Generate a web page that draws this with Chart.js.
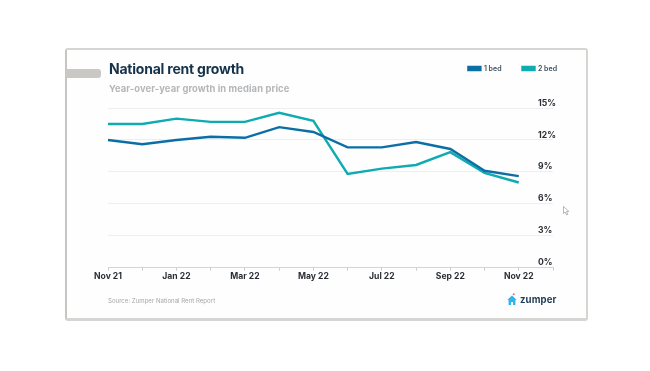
<!DOCTYPE html>
<html lang="en">
<head>
    <title>National rent growth</title>
    <meta charset="utf-8" />
    <script src="https://cdn.jsdelivr.net/npm/chart.js@4/dist/chart.umd.min.js"></script>
    <style>
        html, body { margin: 0; padding: 0; background: #fff; overflow: hidden; }
        #page { position: relative; width: 650px; height: 371px; font-family: Inter, sans-serif; }
        #card { position: absolute; left: 65px; top: 48px; width: 519px; height: 268px; background: #fefefe;
            border: 2px solid #d6d5d2; border-bottom-width: 3px; border-radius: 3px; border-left-color: #c6c5c2; }
        #tab { position: absolute; left: 66px; top: 69px; width: 35px; height: 9px; background: #c9c8c5; border-radius: 0 3px 3px 0; }
        #myChart { position: absolute; left: 0; top: 0; }
        .label { position: absolute; white-space: nowrap; }
        #title { left: 109px; top: 60px; font-size: 14px; font-weight: 700; color: #16324a; letter-spacing: -0.22px; }
        #subtitle { left: 109px; top: 83px; font-size: 9.4px; font-weight: 700; color: #b4b6b8; letter-spacing: 0.1px; }
        #source { left: 108px; top: 297px; font-size: 6.1px; color: #a5a7a9; }
        #brand { left: 520px; top: 294px; font-size: 9.6px; font-weight: 700; color: #1d3a50; letter-spacing: 0.1px; }
        svg { position: absolute; }
    </style>
</head>
<body>
    <div id="page">
        <div id="card"></div>
        <div id="tab"></div>
        <canvas id="myChart" width="650" height="371"></canvas>
        <div class="label" id="title">National rent growth</div>
        <div class="label" id="subtitle">Year-over-year growth in median price</div>
        <div class="label" id="source">Source: Zumper National Rent Report</div>
        <svg style="left:507px;top:293px" width="10" height="12" viewBox="0 0 11 14">
            <circle cx="7.5" cy="1.5" r="1.2" fill="#ee6a80" />
            <path d="M5.5 3 L11 8 L9.5 8 L9.5 14 L6.7 14 L6.7 10.5 L4.3 10.5 L4.3 14 L1.5 14 L1.5 8 L0 8 Z" fill="#2fb4ec" />
        </svg>
        <div class="label" id="brand">zumper</div>
        <svg style="left:563px;top:206px" width="7" height="10" viewBox="0 0 7 10">
            <path d="M0.5 0.5 L0.5 7.5 L2.2 6 L3.6 9 L4.8 8.4 L3.5 5.6 L5.8 5.4 Z" fill="#fff" stroke="#9a9a9a" stroke-width="0.7" />
        </svg>
    </div>

    <script>
        var categories = ['Nov 21', 'Dec 21', 'Jan 22', 'Feb 22', 'Mar 22', 'Apr 22', 'May 22', 'Jun 22', 'Jul 22', 'Aug 22', 'Sep 22', 'Oct 22', 'Nov 22', ''];
        var oneBed = [12.0, 11.6, 12.0, 12.3, 12.2, 13.2, 12.75, 11.3, 11.3, 11.8, 11.15, 9.1, 8.6, null];
        var twoBed = [13.5, 13.5, 14.0, 13.7, 13.7, 14.55, 13.8, 8.8, 9.3, 9.65, 10.85, 8.9, 8.0, null];
        var yTicks = [0, 3, 6, 9, 12, 15];

        var tickFont = { family: 'Inter', size: 8.6, weight: '700' };

        //Stretch the legend box so the plot starts well below it.
        var legendGap = {
            id: 'legendGap',
            beforeInit: function (chart) {
                var fit = chart.legend.fit;
                chart.legend.fit = function () {
                    fit.bind(this)();
                    this.height += 26;
                };
            }
        };

        new Chart(document.getElementById('myChart').getContext('2d'), {
            type: 'line',
            plugins: [legendGap],
            data: {
                labels: categories,
                datasets: [{
                    label: '1 bed',
                    data: oneBed,
                    borderColor: '#0b6fa6',
                    backgroundColor: '#0b6fa6',
                    borderWidth: 2.4,
                    pointRadius: 0,
                    tension: 0
                }, {
                    label: '2 bed',
                    data: twoBed,
                    borderColor: '#0eabb0',
                    backgroundColor: '#0eabb0',
                    borderWidth: 2.4,
                    pointRadius: 0,
                    tension: 0
                }]
            },
            options: {
                responsive: false,
                animation: false,
                layout: { padding: { left: 108, right: 72, top: 44, bottom: 88 } },
                plugins: {
                    tooltip: { enabled: false },
                    legend: {
                        position: 'top',
                        align: 'end',
                        labels: {
                            boxWidth: 12,
                            boxHeight: 3,
                            padding: 21,
                            color: '#3b4d5c',
                            font: { family: 'Inter', size: 7, weight: '600' }
                        }
                    }
                },
                scales: {
                    x: {
                        offset: false,
                        grid: { display: true, drawOnChartArea: false, drawTicks: true, tickLength: 3, tickColor: '#cccccc' },
                        border: { display: true, color: '#d4d4d4', width: 1 },
                        ticks: {
                            autoSkip: false,
                            maxRotation: 0,
                            padding: 1,
                            color: '#2a2f36',
                            font: tickFont,
                            callback: function (value, index) {
                                return index % 2 === 0 ? categories[index] : '';
                            }
                        }
                    },
                    y: {
                        position: 'right',
                        min: 0,
                        max: 15,
                        afterFit: function (scale) { scale.width = 25; },
                        afterBuildTicks: function (scale) {
                            scale.ticks = yTicks.map(function (v) { return { value: v }; });
                        },
                        grid: { color: '#eeeeee', drawTicks: false },
                        border: { display: false },
                        ticks: {
                            mirror: true,
                            crossAlign: 'far',
                            padding: 3,
                            labelOffset: -5,
                            color: '#2a2f36',
                            font: tickFont,
                            callback: function (value) { return value + '%'; }
                        }
                    }
                }
            }
        });
    </script>
</body>
</html>
